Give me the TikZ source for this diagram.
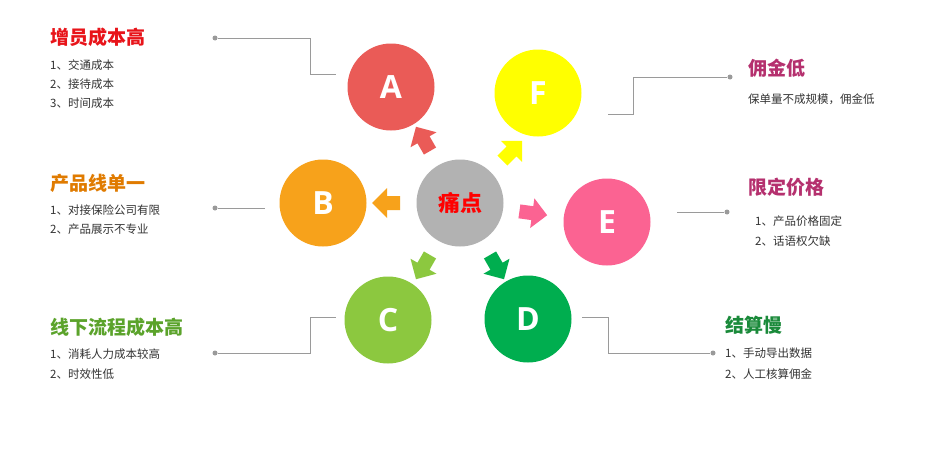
\documentclass[tikz,border=0pt]{standalone}
\usepackage{fontspec}
\setmainfont{Noto Sans CJK SC}
\newfontfamily\latf{Open Sans}
\usetikzlibrary{calc}
\definecolor{cA}{HTML}{EA5B57}
\definecolor{cF}{HTML}{FFFF00}
\definecolor{cB}{HTML}{F7A21B}
\definecolor{cE}{HTML}{FB6392}
\definecolor{cC}{HTML}{8CC83F}
\definecolor{cD}{HTML}{00AE4F}
\definecolor{cM}{HTML}{B2B2B2}
\definecolor{tR}{HTML}{E8141A}
\definecolor{tO}{HTML}{E07B00}
\definecolor{tG}{HTML}{5BA32B}
\definecolor{tP}{HTML}{B5306E}
\definecolor{tD}{HTML}{1A8A3A}
\definecolor{ln}{HTML}{9A9A9A}
\tikzset{
 circ/.style={circle,minimum size=87pt,inner sep=0pt,text=white,font=\latf\fontsize{32}{32}\selectfont\bfseries},
 ttl/.style={anchor=west,font=\fontsize{19}{19}\selectfont\bfseries,inner sep=0pt},
 itm/.style={anchor=west,font=\fontsize{11.5}{12}\selectfont,text=black!80,inner sep=0pt},
 lk/.style={draw=ln,line width=1pt},
 dot/.style={circle,fill=ln,minimum size=5pt,inner sep=0pt}
}
\newcommand{\fatarrow}[3]{% color, angle, center
 \fill[#1,rotate around={#2:#3}] ($#3+(60,-7)$) -- ($#3+(73,-7)$) -- ($#3+(73,-15)$) -- ($#3+(88,0)$) -- ($#3+(73,15)$) -- ($#3+(73,7)$) -- ($#3+(60,7)$) -- cycle;}
\begin{document}
\begin{tikzpicture}[x=1pt,y=-1pt]
\useasboundingbox[fill=white] (0,0) rectangle (939,455);
\node[circ,fill=cM] (P) at (460,203) {};
\node[text=red,font=\fontsize{22}{22}\selectfont\bfseries] (Pt) at (460,203) {痛点};
\node[circ,fill=cA] (A) at (391,87) {A};
\node[circ,fill=cF] (F) at (538,93) {F};
\node[circ,fill=cB] (B) at (323,203) {B};
\node[circ,fill=cE] (E) at (607,222) {E};
\node[circ,fill=cC] (C) at (388,320) {C};
\node[circ,fill=cD] (D) at (528,319) {D};
\fatarrow{cA}{120}{(460,203)}
\fatarrow{cF}{45}{(460,203)}
\fatarrow{cB}{180}{(460,203)}
\fatarrow{cE}{-8}{(460,203)}
\fatarrow{cC}{-120}{(460,203)}
\fatarrow{cD}{-60}{(460,203)}
% links
\node[dot] (dA) at (215,38) {};
\coordinate (eA) at (336,74);
\draw[lk] (dA) -- (310,38) |- (eA);
\node[dot] (dF) at (730,77) {};
\coordinate (eF) at (608,114);
\draw[lk] (eF) -- (633,114) |- (dF);
\node[dot] (dB) at (215,208) {};
\coordinate (eB) at (265,208);
\draw[lk] (dB) -- (eB);
\node[dot] (dE) at (727,212) {};
\coordinate (eE) at (677,212);
\draw[lk] (eE) -- (dE);
\node[dot] (dC) at (215,353) {};
\coordinate (eC) at (336,317);
\draw[lk] (dC) -- (310,353) |- (eC);
\node[dot] (dD) at (713,353) {};
\coordinate (eD) at (582,317);
\draw[lk] (eD) -- (608,317) |- (dD);
% texts
\node[ttl,text=tR] (tA) at (50,37) {增员成本高};
\node[itm] (a1) at (50,65) {1、交通成本};
\node[itm] (a2) at (50,84) {2、接待成本};
\node[itm] (a3) at (50,103) {3、时间成本};
\node[ttl,text=tO] (tB) at (50,183) {产品线单一};
\node[itm] (b1) at (50,210) {1、对接保险公司有限};
\node[itm] (b2) at (50,229) {2、产品展示不专业};
\node[ttl,text=tG] (tC) at (50,327) {线下流程成本高};
\node[itm] (c1) at (50,354) {1、消耗人力成本较高};
\node[itm] (c2) at (50,374) {2、时效性低};
\node[ttl,text=tP] (tF) at (748,68) {佣金低};
\node[itm] (f1) at (748,99) {保单量不成规模，佣金低};
\node[ttl,text=tP] (tE) at (748,187) {限定价格};
\node[itm] (e1) at (755,221) {1、产品价格固定};
\node[itm] (e2) at (755,241) {2、话语权欠缺};
\node[ttl,text=tD] (tD) at (725,325) {结算慢};
\node[itm] (d1) at (725,353) {1、手动导出数据};
\node[itm] (d2) at (725,374) {2、人工核算佣金};
\end{tikzpicture}
\end{document}
